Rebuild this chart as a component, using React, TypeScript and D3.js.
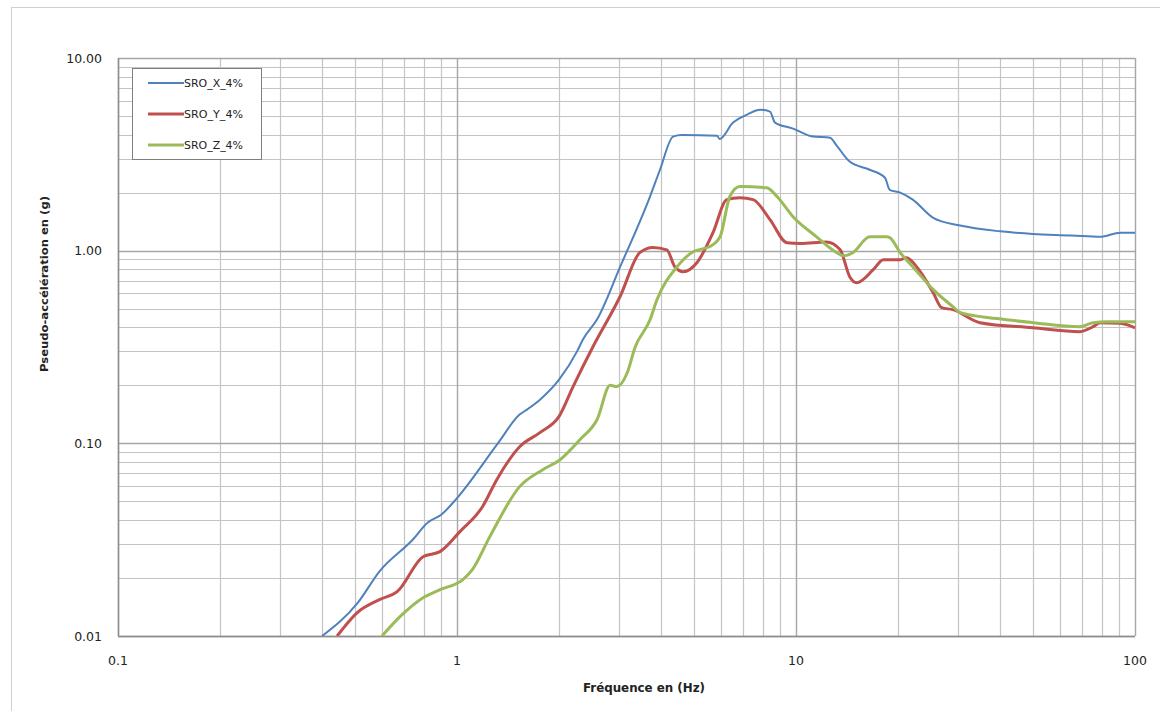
import { useEffect, useRef } from 'react';
import * as d3 from 'd3';

// Spectre X
const freqX = [0.40, 0.51, 0.59, 0.74, 0.82, 0.90, 1.0, 1.32, 1.53, 1.62, 1.76, 2.0, 2.26, 2.35, 2.59, 3.03, 3.71, 3.97, 4.34, 4.6, 5.85, 5.95, 6.52, 7.2, 7.83, 8.38, 8.67, 9.8, 11.2, 12.6, 13.2, 14.4, 16.5, 18.3, 18.9, 20.3, 22.1, 25.4, 30.5, 40, 50, 65, 78.9, 90.4, 100];
const sroX = [0.010, 0.0149, 0.0216, 0.0316, 0.0388, 0.0427, 0.052, 0.100, 0.141, 0.151, 0.169, 0.214, 0.30, 0.345, 0.44, 0.826, 1.91, 2.63, 3.91, 3.98, 3.95, 3.80, 4.62, 5.1, 5.39, 5.27, 4.62, 4.30, 3.91, 3.86, 3.5, 2.9, 2.63, 2.39, 2.07, 2.0, 1.84, 1.48, 1.35, 1.26, 1.22, 1.20, 1.18, 1.24, 1.24];

// Spectre Y
const freqY = [0.443, 0.507, 0.593, 0.666, 0.794, 0.891, 1.02, 1.19, 1.31, 1.53, 1.76, 2.0, 2.2, 2.52, 3.03, 3.46, 3.78, 4.16, 4.39, 4.65, 5.1, 5.69, 6.25, 6.83, 7.47, 8.38, 9.4, 10.3, 12.3, 13.5, 14.4, 15.1, 16.9, 18.1, 20.3, 21.2, 22.8, 25.4, 26.9, 29, 34.9, 50, 68.8, 75.2, 78.9, 90.4, 100];
const sroY = [0.010, 0.0132, 0.0155, 0.017, 0.0258, 0.0274, 0.0348, 0.047, 0.0648, 0.096, 0.114, 0.138, 0.197, 0.318, 0.58, 0.976, 1.04, 1.01, 0.826, 0.778, 0.866, 1.24, 1.84, 1.88, 1.84, 1.45, 1.10, 1.09, 1.11, 1.01, 0.733, 0.682, 0.797, 0.898, 0.898, 0.92, 0.816, 0.605, 0.506, 0.494, 0.423, 0.398, 0.38, 0.403, 0.423, 0.42, 0.398];

// Spectre Z
const freqZ = [0.601, 0.679, 0.794, 0.891, 1.04, 1.11, 1.25, 1.53, 1.79, 2.01, 2.31, 2.59, 2.83, 2.96, 3.18, 3.35, 3.71, 3.89, 4.46, 4.97, 5.57, 5.97, 6.38, 6.83, 8.2, 8.79, 9.8, 11.5, 13.2, 13.8, 14.7, 16.5, 18.5, 18.9, 20.3, 22.1, 25.4, 29, 30.5, 39.2, 50, 68.8, 75.2, 82.6, 100];
const sroZ = [0.010, 0.0126, 0.0158, 0.0174, 0.0196, 0.0221, 0.0328, 0.0596, 0.073, 0.082, 0.105, 0.133, 0.200, 0.197, 0.233, 0.314, 0.438, 0.557, 0.826, 0.988, 1.05, 1.18, 1.91, 2.15, 2.12, 1.91, 1.50, 1.18, 0.976, 0.94, 0.976, 1.18, 1.18, 1.17, 0.976, 0.826, 0.628, 0.513, 0.477, 0.444, 0.423, 0.403, 0.423, 0.428, 0.428];

const seriesNames = ['SRO_X_4%', 'SRO_Y_4%', 'SRO_Z_4%'];
const seriesColors = ['#4f81bd', '#c0504d', '#9bbb59'];
const seriesWidths = [2, 3, 3];

const xTickValues = [0.1, 1, 10, 100];
const xTickLabels = ['0.1', '1', '10', '100'];
const yTickValues = [10, 1, 0.1, 0.01];
const yTickLabels = ['10.00', '1.00', '0.10', '0.01'];

const App = () => {
    const svgRef = useRef<SVGSVGElement>(null);

    useEffect(() => {
        if (!svgRef.current) return;
        d3.select(svgRef.current).selectAll('*').remove();

        const W = 1160, H = 711;
        const left = 118, right = 1135, top = 58, bottom = 636;

        const svg = d3.select(svgRef.current)
            .attr('width', W)
            .attr('height', H);

        svg.append('rect').attr('width', W).attr('height', H).attr('fill', '#fff');

        // outer chart frame
        svg.append('rect')
            .attr('x', 11.5).attr('y', 7.5)
            .attr('width', W).attr('height', H + 20)
            .attr('fill', 'none')
            .attr('stroke', '#d0d0d0')
            .attr('stroke-width', 1);

        const x = d3.scaleLog().domain([0.1, 100]).range([left, right]);
        const y = d3.scaleLog().domain([0.01, 10]).range([bottom, top]);

        // Gridlines (1..9 per decade)
        const minor: number[] = [];
        for (const dec of [0.1, 1, 10]) {
            for (let k = 2; k <= 9; k++) minor.push(dec * k);
        }
        const minorY: number[] = [];
        for (const dec of [0.01, 0.1, 1]) {
            for (let k = 2; k <= 9; k++) minorY.push(dec * k);
        }

        const grid = svg.append('g');
        grid.selectAll('.vminor').data(minor).enter().append('line')
            .attr('x1', d => Math.round(x(d)) + 0.5).attr('x2', d => Math.round(x(d)) + 0.5)
            .attr('y1', top).attr('y2', bottom)
            .attr('stroke', '#c4c4c4').attr('stroke-width', 1.2);
        grid.selectAll('.hminor').data(minorY).enter().append('line')
            .attr('y1', d => Math.round(y(d)) + 0.5).attr('y2', d => Math.round(y(d)) + 0.5)
            .attr('x1', left).attr('x2', right)
            .attr('stroke', '#c4c4c4').attr('stroke-width', 1.2);
        grid.selectAll('.vmajor').data(xTickValues).enter().append('line')
            .attr('x1', d => Math.round(x(d)) + 0.5).attr('x2', d => Math.round(x(d)) + 0.5)
            .attr('y1', top).attr('y2', bottom)
            .attr('stroke', '#a6a6a6').attr('stroke-width', 1.4);
        grid.selectAll('.hmajor').data(yTickValues).enter().append('line')
            .attr('y1', d => Math.round(y(d)) + 0.5).attr('y2', d => Math.round(y(d)) + 0.5)
            .attr('x1', left).attr('x2', right)
            .attr('stroke', '#a6a6a6').attr('stroke-width', 1.4);

        // axis lines
        svg.append('line')
            .attr('x1', left + 0.5).attr('x2', left + 0.5).attr('y1', top).attr('y2', bottom)
            .attr('stroke', '#8c8c8c').attr('stroke-width', 1.4);
        svg.append('line')
            .attr('x1', left).attr('x2', right).attr('y1', bottom + 0.5).attr('y2', bottom + 0.5)
            .attr('stroke', '#8c8c8c').attr('stroke-width', 1.4);

        // tick labels
        svg.selectAll('.ylab').data(yTickValues).enter().append('text')
            .attr('x', 102).attr('y', d => y(d) + 4.5)
            .attr('text-anchor', 'end')
            .attr('font-family', 'DejaVu Sans, Verdana, sans-serif')
            .attr('font-size', '12.5px')
            .attr('fill', '#222')
            .text((d, i) => yTickLabels[i]);

        svg.selectAll('.xlab').data(xTickValues).enter().append('text')
            .attr('x', d => x(d)).attr('y', 665)
            .attr('text-anchor', 'middle')
            .attr('font-family', 'DejaVu Sans, Verdana, sans-serif')
            .attr('font-size', '12.5px')
            .attr('fill', '#222')
            .text((d, i) => xTickLabels[i]);

        // axis titles
        svg.append('text')
            .attr('x', 644).attr('y', 692)
            .attr('text-anchor', 'middle')
            .attr('font-family', 'DejaVu Sans, Verdana, sans-serif')
            .attr('font-size', '11.5px')
            .attr('font-weight', '700')
            .attr('fill', '#222')
            .attr('textLength', 122)
            .attr('lengthAdjust', 'spacingAndGlyphs')
            .text('Fréquence en (Hz)');

        svg.append('text')
            .attr('transform', 'translate(48,284) rotate(-90)')
            .attr('text-anchor', 'middle')
            .attr('font-family', 'DejaVu Sans Condensed, DejaVu Sans, sans-serif')
            .attr('font-size', '11px')
            .attr('font-weight', '700')
            .attr('fill', '#222')
            .attr('textLength', 176)
            .attr('lengthAdjust', 'spacingAndGlyphs')
            .text('Pseudo-accélération en (g)');

        // curves
        const series = [
            freqX.map((f, i) => [f, sroX[i]]),
            freqY.map((f, i) => [f, sroY[i]]),
            freqZ.map((f, i) => [f, sroZ[i]])
        ];

        svg.append('clipPath').attr('id', 'plotclip')
            .append('rect')
            .attr('x', left).attr('y', top - 2)
            .attr('width', right - left + 2).attr('height', bottom - top + 2);

        const line = d3.line<number[]>()
            .x(d => x(d[0]))
            .y(d => y(d[1]))
            .curve(d3.curveMonotoneX);

        const curves = svg.append('g').attr('clip-path', 'url(#plotclip)');
        series.forEach((s, i) => {
            curves.append('path')
                .attr('d', line(s))
                .attr('fill', 'none')
                .attr('stroke', seriesColors[i])
                .attr('stroke-width', seriesWidths[i])
                .attr('stroke-linejoin', 'round');
        });

        // legend
        const legend = svg.append('g');
        legend.append('rect')
            .attr('x', 132.5).attr('y', 68.5)
            .attr('width', 129).attr('height', 91)
            .attr('fill', '#fff')
            .attr('stroke', '#7f7f7f')
            .attr('stroke-width', 1);

        seriesNames.forEach((name, i) => {
            const ly = 83 + i * 31;
            legend.append('line')
                .attr('x1', 148).attr('x2', 184)
                .attr('y1', ly).attr('y2', ly)
                .attr('stroke', seriesColors[i])
                .attr('stroke-width', seriesWidths[i]);
            legend.append('text')
                .attr('x', 184).attr('y', ly + 3.5)
                .attr('font-family', 'DejaVu Sans Condensed, DejaVu Sans, sans-serif')
                .attr('font-size', '10px')
                .attr('fill', '#222')
                .attr('textLength', 59)
                .attr('lengthAdjust', 'spacingAndGlyphs')
                .text(name);
        });
    }, []);

    return (
        <div style={{ position: 'absolute', left: 0, top: 0 }}>
            <svg ref={svgRef} style={{ display: 'block' }}></svg>
        </div>
    );
};

export default App;
